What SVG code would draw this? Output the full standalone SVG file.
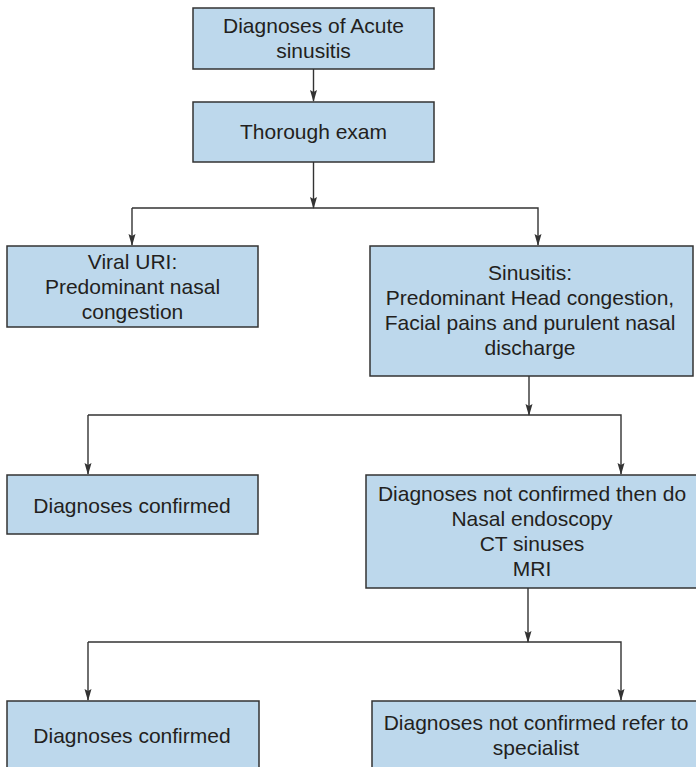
<svg xmlns="http://www.w3.org/2000/svg" width="696" height="767" viewBox="0 0 696 767">
  <style>
    .box { fill: #bdd8ec; stroke: #333; stroke-width: 1.5; }
    .lbl { font-family: "Liberation Sans", Arial, sans-serif; font-size: 21px; fill: #231f20; text-anchor: middle; }
    .wire { fill: none; stroke: #333; stroke-width: 1.4; }
  </style>
  <defs>
    <marker id="head" markerWidth="12" markerHeight="8" refX="11" refY="4" orient="auto" markerUnits="userSpaceOnUse" viewBox="0 0 12 8">
      <path d="M0,0.5 L12,4 L0,7.5 L2,4 Z" fill="#333"/>
    </marker>
  </defs>

  <!-- connectors -->
  <g id="connectors" class="wire">
    <line x1="313.5" y1="69" x2="313.5" y2="101" marker-end="url(#head)"/>
    <line x1="313.5" y1="162" x2="313.5" y2="208" marker-end="url(#head)"/>
    <polyline points="132,208 538,208 538,245" marker-end="url(#head)"/>
    <line x1="132" y1="208" x2="132" y2="245" marker-end="url(#head)"/>

    <line x1="529" y1="376" x2="529" y2="415" marker-end="url(#head)"/>
    <polyline points="88,415 621,415 621,474" marker-end="url(#head)"/>
    <line x1="88" y1="415" x2="88" y2="474" marker-end="url(#head)"/>

    <line x1="528" y1="588" x2="528" y2="642" marker-end="url(#head)"/>
    <polyline points="88,642 621,642 621,700" marker-end="url(#head)"/>
    <line x1="88" y1="642" x2="88" y2="700" marker-end="url(#head)"/>
  </g>

  <g id="n-acute">
    <rect class="box" x="193" y="8" width="241" height="61"/>
    <text class="lbl" x="313.5" y="33">Diagnoses of Acute</text>
    <text class="lbl" x="313.5" y="58">sinusitis</text>
  </g>

  <g id="n-exam">
    <rect class="box" x="193" y="102" width="241" height="60"/>
    <text class="lbl" x="313.5" y="139">Thorough exam</text>
  </g>

  <g id="n-viral">
    <rect class="box" x="7" y="246" width="251" height="81"/>
    <text class="lbl" x="132.5" y="269">Viral URI:</text>
    <text class="lbl" x="132.5" y="294">Predominant nasal</text>
    <text class="lbl" x="132.5" y="319">congestion</text>
  </g>

  <g id="n-sinusitis">
    <rect class="box" x="370" y="246" width="323" height="130"/>
    <text class="lbl" x="530" y="280">Sinusitis:</text>
    <text class="lbl" x="530" y="305">Predominant Head congestion,</text>
    <text class="lbl" x="530" y="330">Facial pains and purulent nasal</text>
    <text class="lbl" x="530" y="355">discharge</text>
  </g>

  <g id="n-confirmed-1">
    <rect class="box" x="7" y="475" width="251" height="59"/>
    <text class="lbl" x="132" y="513">Diagnoses confirmed</text>
  </g>

  <g id="n-imaging">
    <rect class="box" x="366" y="475" width="334" height="113"/>
    <text class="lbl" x="532" y="501">Diagnoses not confirmed then do</text>
    <text class="lbl" x="532" y="526">Nasal endoscopy</text>
    <text class="lbl" x="532" y="551">CT sinuses</text>
    <text class="lbl" x="532" y="576">MRI</text>
  </g>

  <g id="n-confirmed-2">
    <rect class="box" x="7" y="701" width="252" height="70"/>
    <text class="lbl" x="132" y="743">Diagnoses confirmed</text>
  </g>

  <g id="n-specialist">
    <rect class="box" x="372" y="701" width="330" height="70"/>
    <text class="lbl" x="536" y="730">Diagnoses not confirmed refer to</text>
    <text class="lbl" x="536" y="755">specialist</text>
  </g>
</svg>
